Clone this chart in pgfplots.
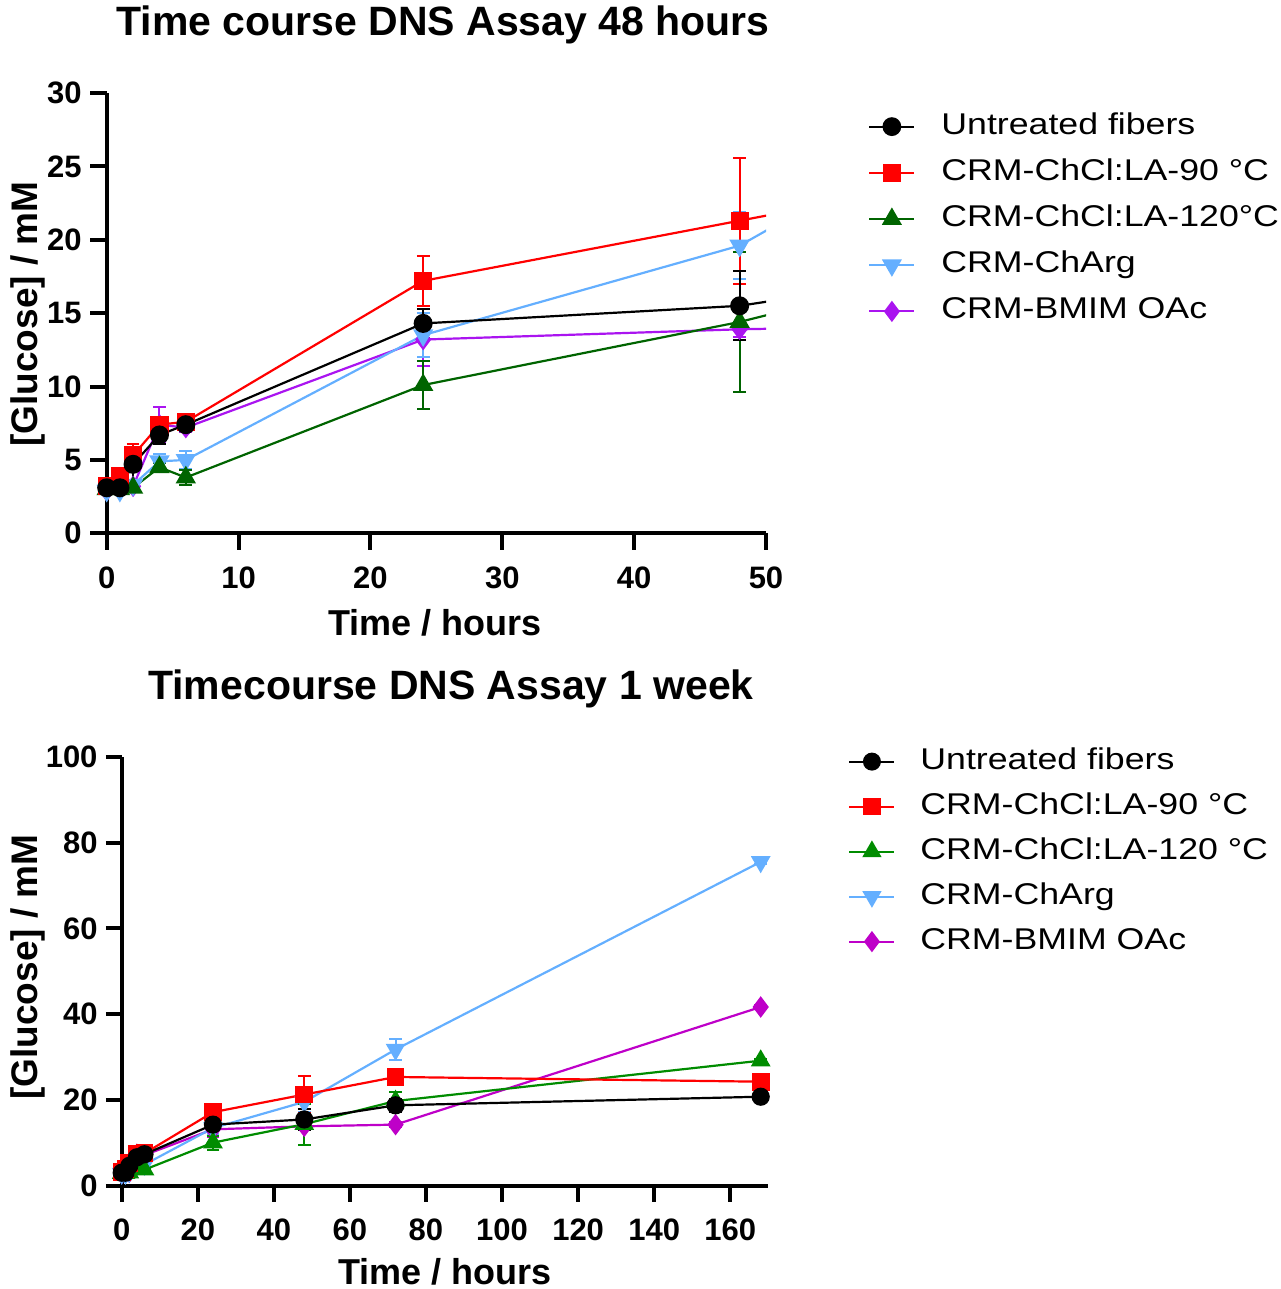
\documentclass[border=0pt]{standalone}
\usepackage{pgfplots}
\usepackage{pgfplotstable}
\pgfplotsset{compat=1.18}
\usepackage{fontspec}
\setmainfont{Liberation Sans}
\newfontfamily\legfont[FakeStretch=1.19]{Liberation Sans}

\definecolor{cgreenA}{RGB}{0,100,0}
\definecolor{cblue}{RGB}{100,175,255}
\definecolor{cpurpA}{RGB}{170,20,240}
\definecolor{cgreenB}{RGB}{0,140,0}
\definecolor{cpurpB}{RGB}{190,0,200}

% x = hours, y = glucose (mM), e = error
\pgfplotstableread{
x y e
0 3.1 0.2
1 3.1 0.2
2 4.7 1.2
4 6.7 0.6
6 7.4 0.2
24 14.3 1.0
48 15.5 2.35
72 18.8 1.5
168 20.8 0.5
}\untr
\pgfplotstableread{
x y e
0 3.2 0.2
1 3.9 0.3
2 5.3 0.8
4 7.4 0.3
6 7.6 0.3
24 17.2 1.7
48 21.3 4.3
72 25.4 1.0
168 24.3 0.5
}\redd
\pgfplotstableread{
x y e
0 3.0 0.2
1 3.0 0.2
2 3.1 0.3
4 4.5 0.3
6 3.8 0.5
24 10.1 1.65
48 14.4 4.8
72 19.8 2.2
168 29.2 0.5
}\grn
\pgfplotstableread{
x y e
0 2.9 0.2
1 2.9 0.2
2 3.3 0.3
4 4.9 0.5
6 5.0 0.6
24 13.5 1.5
48 19.6 2.3
72 31.8 2.5
168 75.5 0.5
}\blu
\pgfplotstableread{
x y e
0 2.9 0.2
1 3.0 0.2
2 3.2 0.3
4 7.4 1.2
6 7.2 0.3
24 13.2 1.8
48 13.9 0.5
72 14.3 0.5
168 41.7 0.5
}\pur

\pgfplotsset{myax/.style={
  scale only axis, anchor=south west,
  axis lines=left, axis line style={line width=2pt,-},
  enlargelimits=false,
  tick style={line width=2pt,black}, tick align=outside,
  minor tick num=0,
  ticklabel style={font=\fontsize{15.5}{18}\selectfont\bfseries},
  yticklabel style={inner sep=4pt},
  xticklabel style={inner sep=0pt, yshift=-8.5pt},
  /pgf/number format/assume math mode=true,
  clip=true,
  every axis plot/.append style={line width=1.1pt},
  error bars/error bar style={line width=1pt},
  error bars/error mark options={rotate=90, mark size=3.2pt, line width=1pt},
  legend cell align=left,
  legend image code/.code={\draw[mark repeat=2,mark phase=2,##1] plot coordinates {(0pt,0pt) (11.25pt,0pt) (22.5pt,0pt)};},
}}

\begin{document}
\begin{tikzpicture}
\useasboundingbox (0,0) rectangle (640pt,-644.5pt);

% ---------------- top ----------------
\begin{axis}[myax, at={(53.35pt,-266.65pt)}, width=329.65pt, height=220.15pt,
  major tick length=8.3pt,
  xmin=0, xmax=50, ymin=0, ymax=30,
  xtick={0,10,...,50}, ytick={0,5,...,30},
  legend style={at={(1.1547,0.9575)}, anchor=north west, draw=none, fill=none,
    inner sep=0pt, row sep=8.6pt, column sep=13pt,
    font=\legfont\fontsize{15}{18}\selectfont,
    nodes={inner sep=0pt, text height=11pt, text depth=3.5pt}},
]
\addlegendimage{black, mark=*, mark size=4.2pt, line width=1pt}
\addlegendentry{Untreated fibers}
\addlegendimage{red, mark=square*, mark size=4pt, line width=1pt}
\addlegendentry{CRM-ChCl:LA-90 °C}
\addlegendimage{cgreenA, mark=triangle*, mark size=4.8pt, line width=1pt}
\addlegendentry{CRM-ChCl:LA-120°C}
\addlegendimage{cblue, mark=triangle*, mark options={rotate=180}, mark size=4.8pt, line width=1pt}
\addlegendentry{CRM-ChArg}
\addlegendimage{cpurpA, mark=diamond*, mark size=4.5pt, line width=1pt}
\addlegendentry{CRM-BMIM OAc}

\addplot[cpurpA, no marks, forget plot] table[x=x,y=y] {\pur};
\addplot[cpurpA, only marks, mark=diamond*, mark size=4.5pt, forget plot, restrict x to domain=0:48,
  error bars/.cd, y dir=both, y explicit] table[x=x,y=y,y error=e] {\pur};
\addplot[cblue, no marks, forget plot] table[x=x,y=y] {\blu};
\addplot[cblue, only marks, mark=triangle*, mark options={rotate=180}, mark size=4.8pt, forget plot, restrict x to domain=0:48,
  error bars/.cd, y dir=both, y explicit] table[x=x,y=y,y error=e] {\blu};
\addplot[cgreenA, no marks, forget plot] table[x=x,y=y] {\grn};
\addplot[cgreenA, only marks, mark=triangle*, mark size=4.8pt, forget plot, restrict x to domain=0:48,
  error bars/.cd, y dir=both, y explicit] table[x=x,y=y,y error=e] {\grn};
\addplot[red, no marks, forget plot] table[x=x,y=y] {\redd};
\addplot[red, only marks, mark=square*, mark size=4pt, forget plot, restrict x to domain=0:48,
  error bars/.cd, y dir=both, y explicit] table[x=x,y=y,y error=e] {\redd};
\addplot[black, no marks, forget plot] table[x=x,y=y] {\untr};
\addplot[black, only marks, mark=*, mark size=4.2pt, forget plot, restrict x to domain=0:48,
  error bars/.cd, y dir=both, y explicit] table[x=x,y=y,y error=e] {\untr};
\end{axis}

% ---------------- bottom ----------------
\begin{axis}[myax, at={(60.85pt,-593pt)}, width=323.3pt, height=214.65pt,
  major tick length=7.9pt,
  xmin=0, xmax=170, ymin=0, ymax=100,
  xtick={0,20,...,160}, ytick={0,20,...,100},
  legend style={at={(1.1233,1.0233)}, anchor=north west, draw=none, fill=none,
    inner sep=0pt, row sep=8pt, column sep=12.5pt,
    font=\legfont\fontsize{15}{18}\selectfont,
    nodes={inner sep=0pt, text height=11pt, text depth=3.5pt}},
]
\addlegendimage{black, mark=*, mark size=4pt, line width=1pt}
\addlegendentry{Untreated fibers}
\addlegendimage{red, mark=square*, mark size=3.9pt, line width=1pt}
\addlegendentry{CRM-ChCl:LA-90 °C}
\addlegendimage{cgreenB, mark=triangle*, mark size=4.6pt, line width=1pt}
\addlegendentry{CRM-ChCl:LA-120 °C}
\addlegendimage{cblue, mark=triangle*, mark options={rotate=180}, mark size=4.6pt, line width=1pt}
\addlegendentry{CRM-ChArg}
\addlegendimage{cpurpB, mark=diamond*, mark size=4.5pt, line width=1pt}
\addlegendentry{CRM-BMIM OAc}

\addplot[cpurpB, mark=diamond*, mark size=4.5pt, forget plot,
  error bars/.cd, y dir=both, y explicit] table[x=x,y=y,y error=e] {\pur};
\addplot[cblue, mark=triangle*, mark options={rotate=180}, mark size=4.6pt, forget plot,
  error bars/.cd, y dir=both, y explicit] table[x=x,y=y,y error=e] {\blu};
\addplot[cgreenB, mark=triangle*, mark size=4.6pt, forget plot,
  error bars/.cd, y dir=both, y explicit] table[x=x,y=y,y error=e] {\grn};
\addplot[red, mark=square*, mark size=3.9pt, forget plot,
  error bars/.cd, y dir=both, y explicit] table[x=x,y=y,y error=e] {\redd};
\addplot[black, mark=*, mark size=4pt, forget plot,
  error bars/.cd, y dir=both, y explicit] table[x=x,y=y,y error=e] {\untr};
\end{axis}

% ---------------- titles and labels ----------------
\node[anchor=base, font=\fontsize{20.5}{24}\selectfont\bfseries] at (221.5pt,-18pt) {Time course DNS Assay 48 hours};
\node[anchor=base, font=\fontsize{20.5}{24}\selectfont\bfseries] at (225.5pt,-349.5pt) {Timecourse DNS Assay 1 week};
\node[anchor=base, font=\fontsize{18}{21}\selectfont\bfseries] at (217.5pt,-317.5pt) {Time / hours};
\node[anchor=base, font=\fontsize{18}{21}\selectfont\bfseries] at (222.5pt,-642pt) {Time / hours};
\node[anchor=base, rotate=90, font=\fontsize{18.5}{22}\selectfont\bfseries] at (18.8pt,-157pt) {[Glucose] / mM};
\node[anchor=base, rotate=90, font=\fontsize{18.5}{22}\selectfont\bfseries] at (18.5pt,-483.5pt) {[Glucose] / mM};
\end{tikzpicture}
\end{document}
